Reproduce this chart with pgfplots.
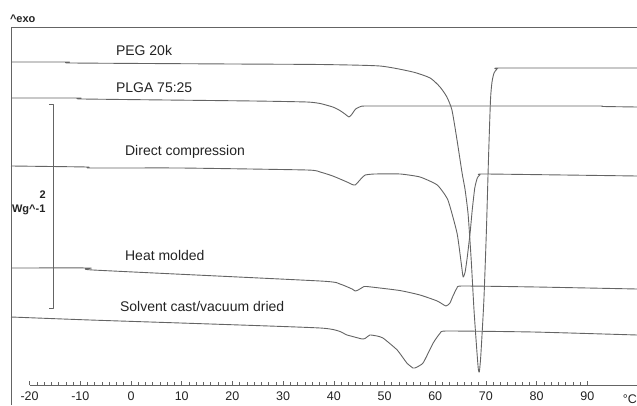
\documentclass[border=0pt]{standalone}
\usepackage{fontspec}
\setmainfont{Liberation Sans}
\usepackage{pgfplots}
\pgfplotsset{compat=1.18}
\definecolor{linegray}{RGB}{100,100,100}
\definecolor{textgray}{RGB}{35,35,35}
\begin{document}
\begin{tikzpicture}
\begin{axis}[
  name=main, at={(0,0)}, anchor=south west,
  scale only axis, width=637pt, height=405pt,
  hide axis, clip=false,
  xmin=-25.84, xmax=99.8, ymin=-405, ymax=0,
  every axis plot/.append style={color=linegray, line width=0.9pt, line join=round},
]
% frame
\addplot[line width=0.8pt] coordinates {(-23.67,-405) (-23.67,-27) (99.8,-27)};
% PEG 20k
\addplot[smooth, tension=0.35] coordinates {
(-23.67,-62) (-12.4,-62) (-11.6,-63) (20,-64) (37.3,-64.5) (49.1,-66) (55.6,-72) (59.0,-78)
(60.95,-87) (62.3,-97) (63.3,-110) (64.3,-140) (65.3,-173) (65.9,-190) (66.5,-215) (67.1,-260)
(67.65,-310) (68.2,-350) (68.5,-369) (68.7,-372) (69.0,-355) (69.6,-300) (70.1,-230) (70.5,-160)
(70.9,-100) (71.2,-82) (71.6,-73) (72.2,-69) (73.2,-68) (99.8,-68)};
% PLGA 75:25
\addplot[smooth, tension=0.3] coordinates {
(-23.67,-98) (-10.1,-98) (-9.5,-99) (24.1,-101) (34.7,-102) (37.3,-103.5) (39.8,-107)
(41.2,-110.5) (42.2,-114) (43.0,-117) (43.6,-114) (44.3,-109) (45.3,-106.5) (46.5,-106)
(60,-106) (80,-106) (92.5,-106) (93.1,-106.5) (99.8,-107)};
% Direct compression
\addplot[smooth, tension=0.3] coordinates {
(-23.67,-166) (-8.7,-167) (-8.1,-168) (9.7,-168) (34.7,-170) (37.3,-172) (39.8,-176)
(42.6,-182) (43.6,-184.5) (44.2,-185) (44.8,-182) (45.5,-178) (46.2,-175) (48,-174)
(53.1,-174) (57.0,-177) (60.4,-185) (62.5,-200) (64.3,-233) (65.1,-262) (65.5,-277)
(65.9,-272) (66.3,-258) (66.9,-232) (67.3,-210) (67.8,-188) (68.3,-178) (68.8,-175)
(70,-174) (99.8,-176)};
% Heat molded
\addplot[smooth, tension=0.3] coordinates {
(-23.67,-268) (-8.1,-268) (-7.5,-270) (37.3,-281) (41.2,-284) (43.6,-289) (44.2,-291)
(44.8,-290) (45.8,-287) (46.5,-286.5) (53,-290.5) (57,-295) (60.4,-301) (62.1,-306)
(62.9,-303) (63.5,-296) (64.3,-288) (65.3,-286) (80,-287) (99.8,-289)};
% Solvent cast/vacuum dried
\addplot[smooth, tension=0.3] coordinates {
(-23.67,-317) (-8.1,-320) (37.3,-328) (42.6,-335) (45.6,-339) (46.3,-338) (47.1,-335)
(48.5,-336) (49.7,-338) (52.5,-350) (54.4,-363) (55.6,-368) (56.0,-368) (57.6,-363)
(59.6,-343) (61.0,-333) (62.3,-331) (79.3,-332) (99.8,-335)};
% scale bar
\addplot[line width=0.8pt] coordinates {(-16.2,-104) (-15.4,-104) (-15.4,-308) (-16.2,-308)};
% texts
\begin{scope}[every node/.style={text=textgray, inner sep=0pt}]
\node[anchor=west, font=\fontsize{14}{16}\selectfont] at (axis cs:-3.0,-50) {PEG 20k};
\node[anchor=west, font=\fontsize{14}{16}\selectfont] at (axis cs:-3.0,-88) {PLGA 75:25};
\node[anchor=west, font=\fontsize{14}{16}\selectfont] at (axis cs:-1.2,-152) {Direct compression};
\node[anchor=west, font=\fontsize{14}{16}\selectfont] at (axis cs:-1.2,-255) {Heat molded};
\node[anchor=west, font=\fontsize{14}{16}\selectfont] at (axis cs:-2.2,-306) {Solvent cast/vacuum dried};
\node[anchor=west, font=\fontsize{11}{13}\selectfont\bfseries] at (axis cs:-23.9,-19) {\^{}exo};
\node[font=\fontsize{11}{13}\selectfont\bfseries] at (axis cs:-17.4,-195) {2};
\node[anchor=west, font=\fontsize{11}{13}\selectfont\bfseries] at (axis cs:-23.5,-210) {Wg\^{}-1};
\node[anchor=east, font=\fontsize{12.5}{14}\selectfont] at (axis cs:99.8,-399) {°C};
\end{scope}
\end{axis}
\begin{axis}[
  at={(29.6pt,20pt)}, anchor=south west,
  scale only axis, width=607.4pt, height=10pt,
  xmin=-20, xmax=99.8, ymin=0, ymax=1,
  axis x line*=bottom, axis y line=none,
  x axis line style={color=linegray, line width=0.8pt},
  xtick={-20,-10,...,90}, minor tick num=6,
  tick align=inside, major tick length=4pt, minor tick length=3pt,
  every tick/.style={color=linegray, line width=0.6pt},
  /pgf/number format/assume math mode=true,
  xticklabel style={font=\fontsize{12.5}{14}\selectfont, text=textgray, yshift=-3.5pt},
]
\addplot[draw=none] coordinates {(0,0)};
\end{axis}
\pgfresetboundingbox
\useasboundingbox (0,0) rectangle (637pt,405pt);
\end{tikzpicture}
\end{document}
